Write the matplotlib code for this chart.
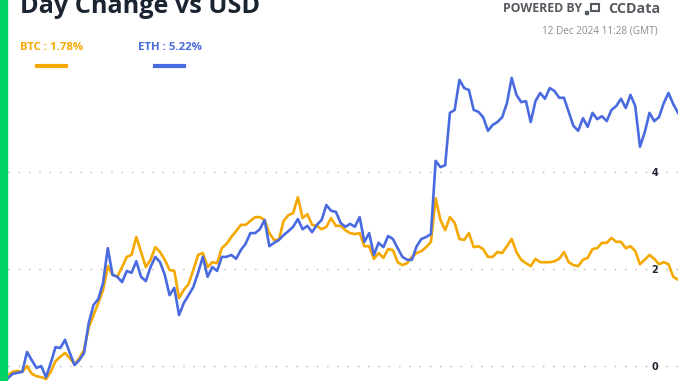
import numpy as np
import matplotlib.pyplot as plt
from matplotlib.lines import Line2D
from matplotlib.patches import Rectangle

# valori (variazione % giornaliera)
btc = [-0.19, -0.12, -0.10, -0.12, 0.00, -0.16, -0.21, -0.23, -0.27, -0.12,
       0.10, 0.19, 0.27, 0.16, 0.04, 0.16, 0.33, 0.80, 1.05, 1.30,
       1.57, 2.06, 1.88, 1.84, 2.04, 2.25, 2.29, 2.66,
       2.35, 2.04, 2.19, 2.45, 2.35, 2.19, 1.98, 1.96, 1.40, 1.57,
       1.69, 1.98, 2.29, 2.33, 2.04, 2.14, 2.12, 2.43, 2.52, 2.66,
       2.78, 2.91, 2.91, 2.99, 3.07, 3.07, 3.01,
       2.74, 2.60, 2.60, 2.99, 3.11, 3.15, 3.48, 3.05, 3.13, 2.91,
       2.89, 2.82, 2.87, 3.05, 2.89, 2.89, 2.80, 2.74, 2.72, 2.74,
       2.47, 2.47, 2.21, 2.33, 2.23, 2.41, 2.39, 2.14, 2.08, 2.12,
       2.25, 2.33, 2.37, 2.45,
       2.56, 3.46, 3.01, 2.80, 3.07, 2.95, 2.62, 2.60, 2.74, 2.45,
       2.47, 2.41, 2.25, 2.25, 2.35, 2.33, 2.47, 2.62, 2.35, 2.19,
       2.12, 2.06, 2.21, 2.14, 2.14, 2.14,
       2.16, 2.21, 2.35, 2.14, 2.08, 2.06, 2.19, 2.23, 2.41, 2.43,
       2.54, 2.54, 2.64, 2.56, 2.56, 2.43, 2.47, 2.37, 2.10, 2.19,
       2.29, 2.21, 2.10, 2.14, 2.10, 1.84, 1.78]

eth = [-0.25, -0.16, -0.14, -0.12, 0.29, 0.12, -0.04, 0.00, -0.23, 0.06,
       0.39, 0.37, 0.54, 0.27, 0.02, 0.12, 0.27, 0.89, 1.26, 1.38,
       1.71, 2.43, 1.88, 1.84, 1.73, 1.96, 1.92, 2.16,
       1.84, 1.75, 2.04, 2.25, 2.14, 1.88, 1.46, 1.61, 1.05, 1.30,
       1.46, 1.63, 1.92, 2.25, 1.84, 2.04, 1.96, 2.25, 2.25, 2.29,
       2.21, 2.39, 2.52, 2.74, 2.74, 2.82, 3.01,
       2.47, 2.54, 2.60, 2.70, 2.78, 2.87, 3.03, 2.82, 2.89, 2.76,
       2.91, 3.01, 3.32, 3.20, 3.18, 2.95, 2.87, 2.93, 2.87, 3.07,
       2.56, 2.74, 2.29, 2.54, 2.45, 2.68, 2.62, 2.43, 2.25, 2.19,
       2.19, 2.47, 2.62, 2.66,
       2.72, 4.23, 4.10, 4.14, 5.22, 5.28, 5.90, 5.73, 5.69, 5.28,
       5.24, 5.13, 4.85, 4.97, 5.03, 5.13, 5.42, 5.94, 5.59, 5.44,
       5.46, 5.03, 5.46, 5.63, 5.51, 5.73,
       5.67, 5.53, 5.53, 5.24, 4.95, 4.85, 5.11, 4.93, 5.22, 5.09,
       5.15, 5.05, 5.28, 5.36, 5.51, 5.32, 5.59, 5.36, 4.52, 4.82,
       5.22, 5.05, 5.13, 5.42, 5.63, 5.40, 5.22]

y_ticks = [0, 2, 4]
btc_label = "BTC : 1.78%"
eth_label = "ETH : 5.22%"

BTC_COLOR = "#f5a800"
ETH_COLOR = "#4a6be0"
GREY = "#555a60"
W, H = 678, 381

fig = plt.figure(figsize=(W / 100, H / 100), dpi=100)

# l'asse parte dopo la barra verde e arriva fino al bordo destro
ax = fig.add_axes([8 / W, 0, 670 / W, (H - 65) / H])
x = np.arange(len(btc))
ax.plot(x, btc, color=BTC_COLOR, lw=1.9, solid_joinstyle="round")
ax.plot(x, eth, color=ETH_COLOR, lw=1.9, solid_joinstyle="round")
ax.set_xlim(0, len(btc) - 1)
ax.set_ylim(-0.309, 6.206)

ax.set_yticks(y_ticks)
ax.set_xticks([])
ax.yaxis.grid(True, color="#b5b5b5", linestyle=(0, (1, 6.4)), lw=1)
ax.tick_params(axis="y", length=0, labelleft=False, labelright=True, pad=-19,
               labelsize=7, labelcolor="#1f2430")
for lab in ax.get_yticklabels():
    lab.set_fontweight("bold")
for s in ax.spines.values():
    s.set_visible(False)

# barra verde a sinistra
fig.patches.append(Rectangle((0, 0), 7 / W, 1, transform=fig.transFigure,
                             color="#00d166", zorder=5))

# titolo tagliato in alto
fig.text(20 / W, 1 - 13 / H, "Day Change vs USD", fontsize=18.2, fontweight="bold",
         family="Open Sans", color="#1b2431", va="baseline")

# legenda
fig.text(20 / W, 1 - 47.5 / H, btc_label, fontsize=8.2, fontweight="bold",
         family="Open Sans", color=BTC_COLOR, va="center")
fig.text(138 / W, 1 - 47.5 / H, eth_label, fontsize=8.2, fontweight="bold",
         family="Open Sans", color=ETH_COLOR, va="center")
fig.lines.append(Line2D([37 / W, 66 / W], [1 - 65.5 / H, 1 - 65.5 / H], lw=3,
                        color=BTC_COLOR, transform=fig.transFigure))
fig.lines.append(Line2D([155 / W, 184 / W], [1 - 65.5 / H, 1 - 65.5 / H], lw=3,
                        color=ETH_COLOR, transform=fig.transFigure))

# intestazione a destra
fig.text(503 / W, 1 - 9 / H, "POWERED BY", fontsize=8.8, fontweight="bold",
         family="Open Sans", color=GREY, va="center")
fig.text(660 / W, 1 - 9 / H, "CCData", fontsize=10.3, fontweight="bold",
         family="Open Sans", color=GREY, va="center", ha="right")
# piccolo logo
fig.patches.append(Rectangle((590.5 / W, 1 - 11 / H), 8 / W, 7 / H, transform=fig.transFigure,
                             fill=False, lw=1.5, ec=GREY))
fig.patches.append(Rectangle((585 / W, 1 - 14 / H), 3 / W, 3 / H, transform=fig.transFigure,
                             color=GREY))
fig.text(658 / W, 1 - 31 / H, "12 Dec 2024 11:28 (GMT)", fontsize=7.2,
         family="Open Sans", color="#8a8d91", va="center", ha="right")

plt.savefig("out.png", dpi=100)
